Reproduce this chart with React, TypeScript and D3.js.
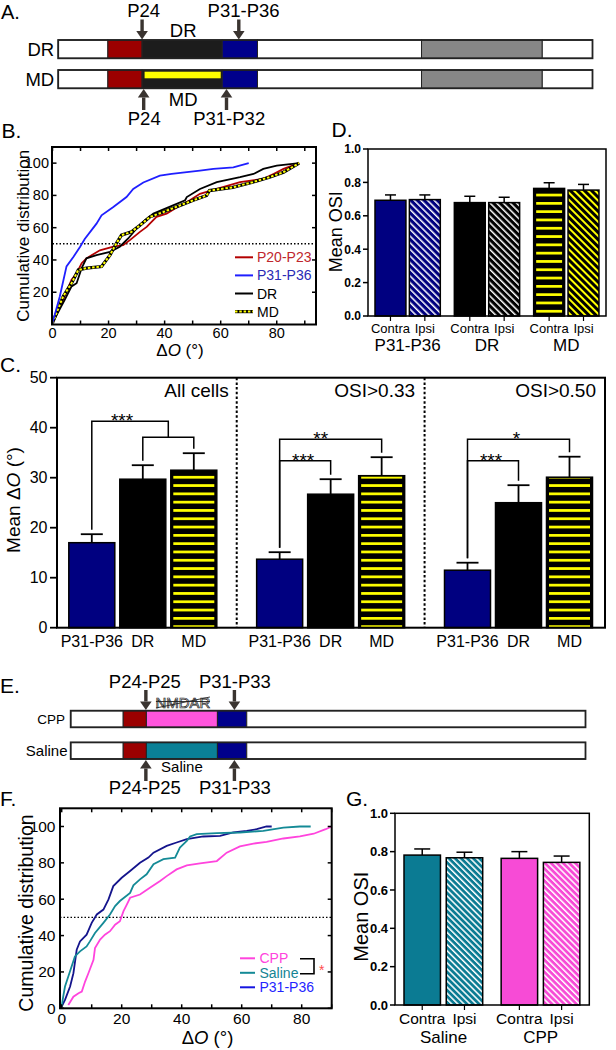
import React from "react";
import * as d3 from "d3";

const FONT = "'Liberation Sans', Arial, Helvetica, sans-serif";

// ---------- Panel A : timeline (units along bar 0..100) ----------
const aRows = ["DR", "MD"];
const aSegBounds = [0, 9.3, 15.7, 30.7, 37.3, 68.0, 90.6, 100];
const aSegFills = ["#ffffff", "#9b0000", "#1c1c1c", "#00008b", "#ffffff", "#878787", "#ffffff"];
const aTopLabels = ["P24", "DR", "P31-P36"];
const aTopLabelAt = [16.0, 23.4, 34.7];
const aTopArrows = [15.7, 33.8];
const aBottomLabels = ["MD", "P24", "P31-P32"];
const aBottomLabelAt = [23.4, 16.1, 32.0];
const aBottomArrows = [16.0, 31.5];

// ---------- Panel B : cumulative distributions ----------
const bCdfP20 = [[0,1],[3.8,15.4],[6.8,27.7],[8.6,31.8],[10.4,38],[12.1,41],[16.9,46],[21.7,48.2],[25.2,49.2],[27.6,52.3],[31.2,57.4],[33.6,60.5],[37.1,66.7],[40.7,68.7],[45.5,73.8],[49,77],[52.6,81],[58.6,84],[66.9,88.2],[75.2,90.3],[78.8,93.3],[82.4,96.4],[88,100]];
const bCdfP31 = [[0,1],[2.6,17.4],[5,36],[7.5,42],[9.8,48],[11.5,53],[15.7,62.5],[17.5,67.7],[21.7,72.8],[26.4,79],[28.8,84],[32.4,88],[38.3,92.3],[42.5,93.3],[52.6,95.4],[57.4,96.4],[64.5,97.4],[70,100]];
const bCdfDR = [[0,1],[4.4,15.4],[6.8,23.6],[8.6,25.6],[10.4,34.9],[12.1,41],[15.7,43],[20.5,45],[24,48.2],[27,53.3],[30,59.5],[33,64.6],[36,68.7],[43,73.8],[47.3,77],[47.9,79],[52.6,84],[58.6,88.2],[66.9,91.3],[71.7,93.3],[75.2,96.4],[80,98.5],[88,100]];
const bCdfMD = [[0,1],[3.8,17.4],[6.8,25.6],[9.2,33.8],[12.1,34.9],[17.5,35.9],[20.5,43],[22.8,50.3],[24.6,55.4],[28.2,57.4],[31.2,61.5],[34.8,66.7],[39.5,69.7],[45.5,73.8],[50.2,77],[55,80],[56,83],[64.3,85],[71.4,88.2],[77.4,91.3],[82.4,94.4],[88,100]];
const bNames = ["P20-P23", "P31-P36", "DR", "MD"];
const bLineColors = ["#b30000", "#1f1fff", "#000000", "#ffff00"];
const bTextColors = ["#c0262c", "#2a2ab5", "#000000", "#000000"];
const bXTicks = [0, 20, 40, 60, 80];
const bYTicks = [20, 40, 60, 80, 100];

// ---------- Panel C : mean delta O ----------
const cSections = ["All cells", "OSI>0.33", "OSI>0.50"];
const cCats = ["P31-P36", "DR", "MD"];
const cMean = [[17.0, 29.7, 31.5], [13.7, 26.7, 30.4], [11.5, 25.0, 30.1]];
const cSem = [[1.7, 2.8, 3.4], [1.4, 3.0, 3.7], [1.5, 3.5, 4.1]];
const cYTicks = [0, 10, 20, 30, 40, 50];
// significance: section, left cat, right cat(s), bracket level, label
const cSigSection = [0, 1, 1, 2, 2];
const cSigRight = [[1, 2], [2], [1], [2], [1]];
const cSigLevel = [41.3, 37.7, 33.4, 37.7, 33.4];
const cSigSubLevel = [38.1, 0, 0, 0, 0];
const cSigLabel = ["***", "**", "***", "*", "***"];

// ---------- Panel D : mean OSI ----------
const dGroups = ["P31-P36", "DR", "MD"];
const dSides = ["Contra", "Ipsi"];
const dMean = [[0.693, 0.697], [0.679, 0.679], [0.764, 0.754]];
const dSem = [[0.032, 0.028], [0.038, 0.032], [0.034, 0.034]];
const osiTicks = [0, 0.2, 0.4, 0.6, 0.8, 1.0];

// ---------- Panel E : timeline ----------
const eRows = ["CPP", "Saline"];
const eSegBounds = [0, 10.2, 14.7, 28.5, 34.2, 100];
const eSegFillsCPP = ["#ffffff", "#9b0000", "#ff55dd", "#00008b", "#ffffff"];
const eSegFillsSal = ["#ffffff", "#9b0000", "#0a8096", "#00008b", "#ffffff"];
const eLabelAt = [14.4, 31.9];
const eArrowAt = [14.6, 31.8];
const eTopLabels = ["P24-P25", "P31-P33"];
const eBottomLabels = ["P24-P25", "P31-P33"];

// ---------- Panel F : cumulative distributions ----------
const fCdfCPP = [[2.2,1.8],[3.9,6.4],[5.6,8.3],[6.7,9.2],[7.8,14.7],[8.9,19.3],[10.6,26.7],[11.1,33.1],[12.8,37.8],[14.4,40.5],[16.1,42.4],[17.8,46],[19.4,47.9],[20.6,53.4],[21.7,57],[22.8,60.8],[26.1,62.6],[29.4,66.3],[32.8,70],[35,72.7],[38.3,76.4],[41.7,78.6],[46.1,79.7],[51.7,81],[55,85.6],[59.4,89],[63.9,90.6],[68.3,91.5],[73.9,93.4],[79.4,94.5],[84,96],[88,98.5],[90,100]];
const fCdfSaline = [[0,1],[0.5,6.4],[1.1,12],[2.2,17.5],[3.3,23],[4.4,28.5],[6.1,31.3],[8.3,34],[9.4,36.8],[11.1,41.4],[13.9,47],[16.1,51.6],[17.8,56.2],[19.4,59],[22.8,63.5],[23.9,67.6],[26.1,70.9],[28.3,73.7],[30.6,79.2],[33.9,82],[37.8,82.9],[39.4,88.4],[41.7,92],[42.8,94.5],[45,95.8],[51.7,96.3],[59.4,96.7],[67.2,97.6],[73.9,99.4],[79.4,100],[83,100]];
const fCdfP31 = [[0,1],[1.1,4.6],[2.8,12],[3.9,19.3],[5,32.2],[6.1,36.8],[8.3,40.5],[10,47],[11.7,51.6],[13.9,54.3],[15.6,59.9],[17.2,67.2],[20,71.8],[22.8,75.5],[26.1,80],[28.9,82.9],[30.6,85.6],[35,89.3],[38.3,91.2],[41.7,93],[47.2,94.5],[52.8,94.8],[57.2,96.7],[61.7,97.6],[65,98.5],[68.3,100],[70,100]];
const fNames = ["CPP", "Saline", "P31-P36"];
const fLineColors = ["#ff44dd", "#148a96", "#14148c"];
const fLegendLineColors = ["#ff44dd", "#148a96", "#1515e0"];
const fTextColors = ["#ff44dd", "#148494", "#2424ff"];
const fXTicks = [0, 20, 40, 60, 80];
const fYTicks = [0, 20, 40, 60, 80, 100];

// ---------- Panel G : mean OSI ----------
const gGroups = ["Saline", "CPP"];
const gSides = ["Contra", "Ipsi"];
const gMean = [[0.782, 0.768], [0.765, 0.744]];
const gSem = [[0.032, 0.029], [0.035, 0.033]];

const ARROW = "#3a3430";

function Arrow({ x, tail, tip }: { x: number; tail: number; tip: number }) {
  const dir = Math.sign(tip - tail);
  const head = 8.5;
  const base = tip - dir * head;
  return (
    <g fill={ARROW}>
      <rect x={x - 1.7} y={Math.min(tail, base)} width={3.4} height={Math.abs(base - tail)} />
      <polygon points={`${x - 5.8},${base} ${x + 5.8},${base} ${x},${tip}`} />
    </g>
  );
}

function Hatch({ id, bg, fg, period, w }: { id: string; bg: string; fg: string; period: number; w: number }) {
  return (
    <pattern id={id} patternUnits="userSpaceOnUse" width={period} height={period} patternTransform="rotate(-45)">
      <rect width={period} height={period} fill={bg} />
      <rect width={w} height={period} fill={fg} />
    </pattern>
  );
}

export default function App() {
  // ----- A -----
  const aX = d3.scaleLinear().domain([0, 100]).range([58.2, 592.5]);
  const aY = d3.scaleBand<string>().domain(aRows).range([40, 88.3]).paddingInner(0.39);
  const aH = aY.bandwidth();

  // ----- B -----
  const bX = d3.scaleLinear().domain([0, 94]).range([52.5, 316]);
  const bY = d3.scaleLinear().domain([0, 110]).range([324.5, 147]);
  const bLine = d3.line<number[]>().x((d) => bX(d[0])).y((d) => bY(d[1]));
  const bData = [bCdfP20, bCdfP31, bCdfDR, bCdfMD];

  // ----- C -----
  const cY = d3.scaleLinear().domain([0, 50]).range([627.7, 377.7]);
  const cSec = d3.scalePoint<string>().domain(cSections).range([142.8, 518.5]);
  const cBar = d3.scaleBand<string>().domain(cCats).range([-74, 74]).paddingInner(0.098);
  const cBW = cBar.bandwidth();
  const cCenter = (s: number, c: number) => (cSec(cSections[s]) as number) + (cBar(cCats[c]) as number) + cBW / 2;
  const cLegTop = (s: number, c: number) => cY(cMean[s][c] + cSem[s][c] + 0.9);
  const cDividers = [0, 1].map((i) => ((cSec(cSections[i]) as number) + (cSec(cSections[i + 1]) as number)) / 2);
  const cFrame = { x0: 57, x1: 605 };

  // ----- D -----
  const dY = d3.scaleLinear().domain([0, 1]).range([316, 149]);
  const dG = d3.scaleBand<string>().domain(dGroups).range([368, 606]);
  const dS = d3.scaleBand<string>().domain(dSides).range([7, 72.3]).paddingInner(0.1);
  const dBW = dS.bandwidth();
  const dFills = [
    ["#000080", "url(#hNavy)"],
    ["#000000", "url(#hBlack)"],
    ["#000000", "url(#hYellow)"],
  ];

  // ----- E -----
  const eX = d3.scaleLinear().domain([0, 100]).range([70.7, 585.5]);
  const eY = d3.scaleBand<string>().domain(eRows).range([710.7, 759]).paddingInner(0.476);
  const eH = eY.bandwidth();

  // ----- F -----
  const fX = d3.scaleLinear().domain([0, 90]).range([61.7, 331.7]);
  const fY = d3.scaleLinear().domain([0, 110]).range([1008.3, 808.3]);
  const fLine = d3.line<number[]>().x((d) => fX(d[0])).y((d) => fY(d[1]));
  const fData = [fCdfCPP, fCdfSaline, fCdfP31];

  // ----- G -----
  const gY = d3.scaleLinear().domain([0, 1]).range([1005, 813.3]);
  const gG = d3.scaleBand<string>().domain(gGroups).range([395, 589.3]);
  const gS = d3.scaleBand<string>().domain(gSides).range([9, 87.7]).paddingInner(0.137);
  const gBW = gS.bandwidth();
  const gFills = [
    ["#0b7b93", "url(#hTeal)"],
    ["#f74bd6", "url(#hPink)"],
  ];

  return (
    <svg
      width={616}
      height={1050}
      viewBox="0 0 616 1050"
      style={{ position: "absolute", left: 0, top: 0, background: "#ffffff" }}
      fontFamily={FONT}
    >
      <defs>
        <Hatch id="hNavy" bg="#000080" fg="#ffffff" period={4.7} w={1.5} />
        <Hatch id="hBlack" bg="#000000" fg="#ffffff" period={4.7} w={1.5} />
        <Hatch id="hYellow" bg="#000000" fg="#ffff00" period={5} w={2} />
        <Hatch id="hTeal" bg="#0b7b93" fg="#ffffff" period={4.3} w={1.5} />
        <Hatch id="hPink" bg="#f74bd6" fg="#ffffff" period={4.3} w={1.5} />
        <pattern id="hStripe" patternUnits="userSpaceOnUse" width={10} height={8.3}>
          <rect y={2.8} width={10} height={2.7} fill="#ffff00" />
        </pattern>
      </defs>

      {/* ================= A ================= */}
      <text x={1} y={19} fontSize={20}>A.</text>
      {aRows.map((row) => {
        const y0 = aY(row) as number;
        return (
          <g key={row}>
            {aSegFills.map((f, i) => (
              <rect key={i} x={aX(aSegBounds[i])} y={y0} width={aX(aSegBounds[i + 1]) - aX(aSegBounds[i])} height={aH} fill={f} stroke="#222" strokeWidth={1} />
            ))}
            {row === "MD" && (
              <rect x={aX(aSegBounds[2]) + 2.5} y={y0 + 1.7} width={aX(aSegBounds[3]) - aX(aSegBounds[2]) - 4} height={6.6} fill="#ffff00" />
            )}
            <rect x={aX(0)} y={y0} width={aX(100) - aX(0)} height={aH} fill="none" stroke="#222" strokeWidth={1.8} />
            <text x={aX(0) - 4} y={y0 + aH / 2 + 6.5} fontSize={18.5} textAnchor="end">{row}</text>
          </g>
        );
      })}
      {aTopLabels.map((t, i) => (
        <text key={t} x={aX(aTopLabelAt[i])} y={t === "DR" ? 37.3 : 17.3} fontSize={18.5} textAnchor="middle">{t}</text>
      ))}
      {aTopArrows.map((u) => (
        <Arrow key={u} x={aX(u)} tail={19.5} tip={39.5} />
      ))}
      {aBottomLabels.map((t, i) => (
        <text key={t} x={aX(aBottomLabelAt[i])} y={t === "MD" ? 106 : 125} fontSize={18.5} textAnchor="middle">{t}</text>
      ))}
      {aBottomArrows.map((u) => (
        <Arrow key={u} x={aX(u)} tail={110} tip={89} />
      ))}

      {/* ================= B ================= */}
      <text x={1.5} y={138} fontSize={21}>B.</text>
      <g>
        <line x1={bX(0)} x2={bX(94)} y1={bY(50)} y2={bY(50)} stroke="#000" strokeWidth={1.4} strokeDasharray="1.5 2" />
        {[0, 2].map((i) => (
          <path key={i} d={bLine(bData[i] as any) as string} fill="none" stroke={bLineColors[i]} strokeWidth={1.8} />
        ))}
        <path d={bLine(bData[3] as any) as string} fill="none" stroke="#000" strokeWidth={3.2} />
        <path d={bLine(bData[3] as any) as string} fill="none" stroke="#ffff00" strokeWidth={2} strokeDasharray="2.5 1.8" />
        <path d={bLine(bData[1] as any) as string} fill="none" stroke={bLineColors[1]} strokeWidth={1.8} />
        <rect x={bX(0) - 0.5} y={bY(110)} width={bX(94) - bX(0) + 0.5} height={bY(0) - bY(110)} fill="none" stroke="#000" strokeWidth={2} />
        {d3.range(0, 95, 10).map((v) => (
          <g key={v} stroke="#000" strokeWidth={1.5}>
            <line x1={bX(v)} x2={bX(v)} y1={bY(0)} y2={bY(0) - 4} />
            <line x1={bX(v)} x2={bX(v)} y1={bY(110)} y2={bY(110) + 4} />
          </g>
        ))}
        {bYTicks.map((v) => (
          <g key={v}>
            <line x1={bX(0)} x2={bX(0) + 4} y1={bY(v)} y2={bY(v)} stroke="#000" strokeWidth={1.5} />
            <line x1={bX(94)} x2={bX(94) - 4} y1={bY(v)} y2={bY(v)} stroke="#000" strokeWidth={1.5} />
            <text x={49} y={bY(v) + 5} fontSize={14.5} textAnchor="end">{v}</text>
          </g>
        ))}
        {bXTicks.map((v) => (
          <text key={v} x={bX(v)} y={338} fontSize={14.5} textAnchor="middle">{v}</text>
        ))}
        <text x={180} y={356} fontSize={17} textAnchor="middle">Δ<tspan fontStyle="italic">O</tspan> (°)</text>
        <text transform={`translate(28.5,${(bY(0) + bY(110)) / 2}) rotate(-90)`} fontSize={17} textAnchor="middle">Cumulative distribution</text>
        {bNames.map((n, i) => {
          const y = 257.3 + i * 18.1;
          return (
            <g key={n}>
              {i === 3 ? (
                <g>
                  <line x1={235} x2={253} y1={y} y2={y} stroke="#000" strokeWidth={3.2} />
                  <line x1={235} x2={253} y1={y} y2={y} stroke="#ffff00" strokeWidth={2} strokeDasharray="2.5 1.8" />
                </g>
              ) : (
                <line x1={235} x2={253} y1={y} y2={y} stroke={bLineColors[i]} strokeWidth={2} />
              )}
              <text x={257} y={y + 5} fontSize={14} fill={bTextColors[i]}>{n}</text>
            </g>
          );
        })}
      </g>

      {/* ================= D ================= */}
      <text x={331.5} y={137} fontSize={21}>D.</text>
      <g>
        {dGroups.map((g, gi) => (
          <g key={g}>
            {dSides.map((s, si) => {
              const x = (dG(g) as number) + (dS(s) as number);
              const y = dY(dMean[gi][si]);
              const cx = x + dBW / 2;
              const yTop = dY(dMean[gi][si] + dSem[gi][si]);
              const isStripe = gi === 2 && si === 0;
              return (
                <g key={s}>
                  <line x1={cx} x2={cx} y1={y} y2={yTop} stroke="#000" strokeWidth={1.5} />
                  <line x1={cx - 5.5} x2={cx + 5.5} y1={yTop} y2={yTop} stroke="#000" strokeWidth={1.5} />
                  <rect x={x} y={y} width={dBW} height={dY(0) - y} fill={isStripe ? "#000" : dFills[gi][si]} stroke="#000" strokeWidth={1.5} />
                  {isStripe && <rect x={x + 2.5} y={y + 1} width={dBW - 5} height={dY(0) - y - 1.5} fill="url(#hStripe)" />}
                  <line x1={cx} x2={cx} y1={dY(0)} y2={dY(0) + 5} stroke="#000" strokeWidth={1.2} />
                  <text x={cx} y={332.5} fontSize={13} textAnchor="middle">{s}</text>
                </g>
              );
            })}
            <text x={(dG(g) as number) + dG.bandwidth() / 2} y={350.5} fontSize={17} textAnchor="middle">{g}</text>
          </g>
        ))}
        <rect x={368} y={dY(1)} width={238} height={dY(0) - dY(1)} fill="none" stroke="#000" strokeWidth={1.5} />
        {osiTicks.map((v) => (
          <g key={v}>
            <line x1={363} x2={368} y1={dY(v)} y2={dY(v)} stroke="#000" strokeWidth={1.5} />
            <text x={361} y={dY(v) + 4.3} fontSize={12} fontWeight="bold" textAnchor="end">{v.toFixed(1)}</text>
          </g>
        ))}
        <text transform={`translate(342,231.7) rotate(-90)`} fontSize={18} textAnchor="middle">Mean OSI</text>
      </g>

      {/* ================= C ================= */}
      <text x={0} y={372} fontSize={21}>C.</text>
      <g>
        {cSections.map((sec, si) => (
          <g key={sec}>
            {cCats.map((c, ci) => {
              const x = (cSec(sec) as number) + (cBar(c) as number);
              const cx = x + cBW / 2;
              const y = cY(cMean[si][ci]);
              const yTop = cY(cMean[si][ci] + cSem[si][ci]);
              return (
                <g key={c}>
                  <line x1={cx} x2={cx} y1={y} y2={yTop} stroke="#000" strokeWidth={1.8} />
                  <line x1={cx - 11} x2={cx + 11} y1={yTop} y2={yTop} stroke="#000" strokeWidth={1.8} />
                  <rect x={x} y={y} width={cBW} height={cY(0) - y} fill={ci === 0 ? "#000080" : "#000"} stroke="#000" strokeWidth={1.5} />
                  {ci === 2 && <rect x={x + 2.5} y={y + 1} width={cBW - 5} height={cY(0) - y - 1.5} fill="url(#hStripe)" />}
                  <text x={cx} y={647} fontSize={16} textAnchor="middle">{c}</text>
                </g>
              );
            })}
          </g>
        ))}
        {cDividers.map((x) => (
          <line key={x} x1={x} x2={x} y1={cY(50)} y2={cY(0)} stroke="#000" strokeWidth={2} strokeDasharray="2.5 2.2" />
        ))}
        <rect x={cFrame.x0} y={cY(50)} width={cFrame.x1 - cFrame.x0} height={cY(0) - cY(50)} fill="none" stroke="#000" strokeWidth={2} />
        {cYTicks.map((v) => (
          <g key={v}>
            <line x1={50} x2={57} y1={cY(v)} y2={cY(v)} stroke="#000" strokeWidth={1.8} />
            <text x={47.5} y={cY(v) + 5.5} fontSize={16} textAnchor="end">{v}</text>
          </g>
        ))}
        <text x={cDividers[0] - 8} y={397} fontSize={19} textAnchor="end">{cSections[0]}</text>
        <text x={cDividers[1] - 9.5} y={397} fontSize={19} textAnchor="end">{cSections[1]}</text>
        <text x={cFrame.x1 - 9} y={397} fontSize={19} textAnchor="end">{cSections[2]}</text>
        <text transform={`translate(19.5,500) rotate(-90)`} fontSize={19} textAnchor="middle">Mean Δ<tspan fontStyle="italic">O</tspan> (°)</text>
        {cSigLabel.map((lab, k) => {
          const s = cSigSection[k];
          const xL = cCenter(s, 0);
          const yL = cLegTop(s, 0);
          const yB = cY(cSigLevel[k]);
          const rights = cSigRight[k];
          if (rights.length === 2) {
            const xA = cCenter(s, rights[0]);
            const xB = cCenter(s, rights[1]);
            const xM = (xA + xB) / 2;
            const ySub = cY(cSigSubLevel[k]);
            return (
              <g key={k} fill="none" stroke="#000" strokeWidth={1.5}>
                <path d={`M${xL},${yL}V${yB}H${xM}V${ySub}`} />
                <path d={`M${xA},${cLegTop(s, rights[0])}V${ySub}H${xB}V${cLegTop(s, rights[1])}`} />
                <text x={(xL + xM) / 2 - 8} y={yB + 6} fontSize={19} textAnchor="middle" fill="#000" stroke="none">{lab}</text>
              </g>
            );
          }
          const xR = cCenter(s, rights[0]);
          return (
            <g key={k} fill="none" stroke="#000" strokeWidth={1.5}>
              <path d={`M${xL},${yL}V${yB}H${xR}V${cLegTop(s, rights[0])}`} />
              <text x={(xL + xR) / 2 - (lab === "**" ? 10 : 2)} y={yB + 6} fontSize={19} textAnchor="middle" fill="#000" stroke="none">{lab}</text>
            </g>
          );
        })}
      </g>

      {/* ================= E ================= */}
      <text x={0} y={693} fontSize={21}>E.</text>
      {eRows.map((row, ri) => {
        const y0 = eY(row) as number;
        const fills = ri === 0 ? eSegFillsCPP : eSegFillsSal;
        return (
          <g key={row}>
            {fills.map((f, i) => (
              <rect key={i} x={eX(eSegBounds[i])} y={y0} width={eX(eSegBounds[i + 1]) - eX(eSegBounds[i])} height={eH} fill={f} stroke="#222" strokeWidth={1} />
            ))}
            <rect x={eX(0)} y={y0} width={eX(100) - eX(0)} height={eH} fill="none" stroke="#222" strokeWidth={1.8} />
            <text x={ri === 0 ? 65 : 67.5} y={y0 + eH / 2 + (ri === 0 ? 4.7 : 5.4)} fontSize={ri === 0 ? 13.5 : 15} textAnchor="end">{row}</text>
          </g>
        );
      })}
      {eTopLabels.map((t, i) => (
        <text key={i} x={eX(eLabelAt[i])} y={687.7} fontSize={18.5} textAnchor="middle">{t}</text>
      ))}
      {eArrowAt.map((u) => (
        <Arrow key={u} x={eX(u)} tail={690} tip={710} />
      ))}
      <g>
        <text x={eX(21.8)} y={708} fontSize={15} textAnchor="middle" fill="#fff" stroke="#222" strokeWidth={0.7}>NMDAR</text>
        <line x1={eX(21.8) - 27} x2={eX(21.8) + 27} y1={701.5} y2={701.5} stroke="#222" strokeWidth={0.9} />
        <line x1={eX(21.8) - 27} x2={eX(21.8) + 27} y1={708} y2={697} stroke="#222" strokeWidth={0.9} />
      </g>
      <text x={eX(21.6)} y={771.7} fontSize={15} textAnchor="middle">Saline</text>
      {eArrowAt.map((u) => (
        <Arrow key={u} x={eX(u)} tail={781} tip={760} />
      ))}
      {eBottomLabels.map((t, i) => (
        <text key={i} x={eX(eLabelAt[i])} y={794.3} fontSize={18.5} textAnchor="middle">{t}</text>
      ))}

      {/* ================= F ================= */}
      <text x={0} y={806} fontSize={21}>F.</text>
      <g>
        <line x1={60} x2={fX(90)} y1={fY(50)} y2={fY(50)} stroke="#000" strokeWidth={1.4} strokeDasharray="1.5 2" />
        {[0, 2, 1].map((i) => (
          <path key={i} d={fLine(fData[i] as any) as string} fill="none" stroke={fLineColors[i]} strokeWidth={1.8} />
        ))}
        <rect x={60} y={fY(110)} width={fX(90) - 60} height={fY(0) - fY(110)} fill="none" stroke="#000" strokeWidth={2} />
        {d3.range(0, 91, 10).map((v) => (
          <g key={v} stroke="#000" strokeWidth={1.5}>
            <line x1={fX(v)} x2={fX(v)} y1={fY(0)} y2={fY(0) - 4} />
            <line x1={fX(v)} x2={fX(v)} y1={fY(110)} y2={fY(110) + 4} />
          </g>
        ))}
        {fYTicks.map((v) => (
          <g key={v}>
            <line x1={60} x2={64} y1={fY(v)} y2={fY(v)} stroke="#000" strokeWidth={1.5} />
            <line x1={fX(90)} x2={fX(90) - 4} y1={fY(v)} y2={fY(v)} stroke="#000" strokeWidth={1.5} />
            <text x={55.5} y={fY(v) + 5.5} fontSize={15.5} textAnchor="end">{v}</text>
          </g>
        ))}
        {fXTicks.map((v) => (
          <text key={v} x={fX(v)} y={1023.5} fontSize={15.5} textAnchor="middle">{v}</text>
        ))}
        <text x={207.5} y={1043.5} fontSize={18.5} textAnchor="middle">Δ<tspan fontStyle="italic">O</tspan> (°)</text>
        <text transform={`translate(33,913) rotate(-90)`} fontSize={19.5} textAnchor="middle">Cumulative distribution</text>
        {fNames.map((n, i) => {
          const y = 958.3 + i * 14.5;
          return (
            <g key={n}>
              <line x1={240} x2={255} y1={y} y2={y} stroke={fLegendLineColors[i]} strokeWidth={2} />
              <text x={259.5} y={y + 5} fontSize={14} fill={fTextColors[i]}>{n}</text>
            </g>
          );
        })}
        <path d={`M300,958.8H314V973.8H300`} fill="none" stroke="#000" strokeWidth={1.6} />
        <text x={319} y={975} fontSize={14} fill="#ff4d4d">*</text>
      </g>

      {/* ================= G ================= */}
      <text x={346} y={806} fontSize={21}>G.</text>
      <g>
        {gGroups.map((g, gi) => (
          <g key={g}>
            {gSides.map((s, si) => {
              const x = (gG(g) as number) + (gS(s) as number);
              const y = gY(gMean[gi][si]);
              const cx = x + gBW / 2;
              const yTop = gY(gMean[gi][si] + gSem[gi][si]);
              return (
                <g key={s}>
                  <line x1={cx} x2={cx} y1={y} y2={yTop} stroke="#000" strokeWidth={1.5} />
                  <line x1={cx - 8} x2={cx + 8} y1={yTop} y2={yTop} stroke="#000" strokeWidth={1.5} />
                  <rect x={x} y={y} width={gBW} height={gY(0) - y} fill={gFills[gi][si]} stroke="#000" strokeWidth={1.5} />
                  <line x1={cx} x2={cx} y1={gY(0)} y2={gY(0) + 5} stroke="#000" strokeWidth={1.2} />
                  <text x={cx} y={1024} fontSize={15.5} textAnchor="middle">{s}</text>
                </g>
              );
            })}
            <text x={(gG(g) as number) + gG.bandwidth() / 2} y={1043} fontSize={17} textAnchor="middle">{g}</text>
          </g>
        ))}
        <rect x={395} y={gY(1)} width={194.3} height={gY(0) - gY(1)} fill="none" stroke="#000" strokeWidth={1.5} />
        {osiTicks.map((v) => (
          <g key={v}>
            <line x1={390} x2={395} y1={gY(v)} y2={gY(v)} stroke="#000" strokeWidth={1.5} />
            <text x={388} y={gY(v) + 4.6} fontSize={13} fontWeight="bold" textAnchor="end">{v.toFixed(1)}</text>
          </g>
        ))}
        <text transform={`translate(368,916.7) rotate(-90)`} fontSize={20} textAnchor="middle">Mean OSI</text>
      </g>
    </svg>
  );
}
